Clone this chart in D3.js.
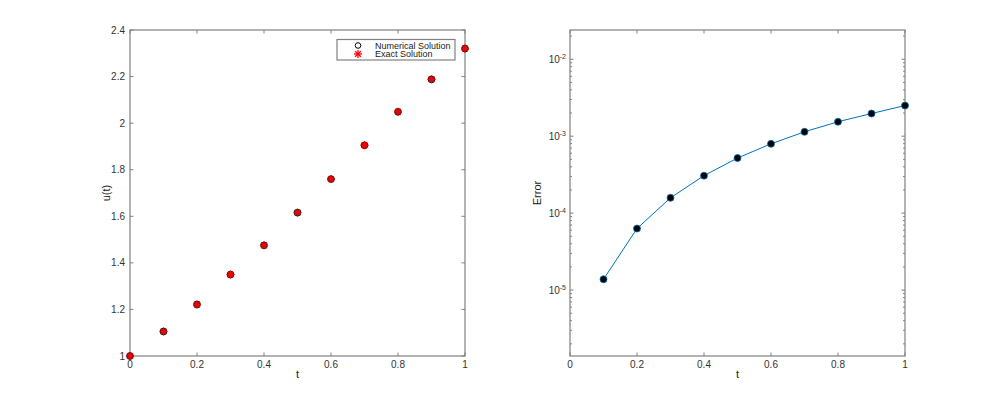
<!DOCTYPE html>
<html><head><meta charset="utf-8">
<script src="https://cdn.jsdelivr.net/npm/d3@7"></script>
<style>body{margin:0;background:#fff}svg{display:block}text{font-family:"Liberation Sans",Arial,sans-serif}</style>
</head><body><svg id="c" width="1000" height="400"></svg>
<script>
const tVals = [0,0.1,0.2,0.3,0.4,0.5,0.6,0.7,0.8,0.9,1.0];
const uNumerical = [1.0,1.1052,1.2213,1.3498,1.4752,1.6158,1.7597,1.9049,2.0487,2.1880,2.3201];
const uExact = [1.0,1.1052,1.2214,1.3499,1.4753,1.6160,1.7600,1.9052,2.0491,2.1885,2.3207];
const tErr = [0.1,0.2,0.3,0.4,0.5,0.6,0.7,0.8,0.9,1.0];
const errVals = [1.38e-5,6.3e-5,1.58e-4,3.07e-4,5.2e-4,7.96e-4,1.14e-3,1.54e-3,1.97e-3,2.5e-3];
const xTicks = [0,0.2,0.4,0.6,0.8,1];
const uTicks = [1,1.2,1.4,1.6,1.8,2,2.2,2.4];
const errMajor = [-5,-4,-3,-2];
const legendLabels = ["Numerical Solution","Exact Solution"];

const svg = d3.select("#c");
const axisCol = "#808080", textCol = "#333";
const yTop = 30, yBot = 356;

function frame(g, L, R){
  g.append("rect").attr("x",L).attr("y",yTop).attr("width",R-L).attr("height",yBot-yTop)
   .attr("fill","none").attr("stroke",axisCol).attr("stroke-width",1.2);
}
function drawStar(sel, cx, cy){
  const s=sel.append("g").attr("transform",`translate(${cx},${cy})`);
  for(let a=0;a<4;a++){
    const ang=a*Math.PI/4, r=4;
    s.append("line").attr("x1",-r*Math.cos(ang)).attr("y1",-r*Math.sin(ang)).attr("x2",r*Math.cos(ang)).attr("y2",r*Math.sin(ang)).attr("stroke","#ff0000").attr("stroke-width",1.3);
  }
}

// ---- Left plot
{
  const L=130,R=465;
  const x = d3.scaleLinear().domain([0,1]).range([L,R]);
  const y = d3.scaleLinear().domain([1,2.4]).range([yBot,yTop]);
  const g = svg.append("g");
  frame(g,L,R);
  xTicks.forEach(v=>{
    g.append("line").attr("x1",x(v)).attr("x2",x(v)).attr("y1",yBot).attr("y2",yBot-3.5).attr("stroke",axisCol);
    g.append("line").attr("x1",x(v)).attr("x2",x(v)).attr("y1",yTop).attr("y2",yTop+3.5).attr("stroke",axisCol);
    g.append("text").attr("x",x(v)).attr("y",yBot+12).attr("text-anchor","middle").attr("font-size",10).attr("fill",textCol).text(d3.format("~g")(v));
  });
  uTicks.forEach(v=>{
    g.append("line").attr("x1",L).attr("x2",L+3.5).attr("y1",y(v)).attr("y2",y(v)).attr("stroke",axisCol);
    g.append("line").attr("x1",R).attr("x2",R-3.5).attr("y1",y(v)).attr("y2",y(v)).attr("stroke",axisCol);
    g.append("text").attr("x",L-5).attr("y",y(v)+3.5).attr("text-anchor","end").attr("font-size",10).attr("fill",textCol).text(d3.format("~g")(v));
  });
  g.append("text").attr("x",(L+R)/2).attr("y",yBot+22).attr("text-anchor","middle").attr("font-size",11).attr("fill","#222").text("t");
  g.append("text").attr("transform",`translate(${L-20},${(yTop+yBot)/2}) rotate(-90)`).attr("text-anchor","middle").attr("font-size",11).attr("fill","#222").text("u(t)");
  tVals.forEach((t,i)=>{
    g.append("circle").attr("cx",x(t)).attr("cy",y(uNumerical[i])).attr("r",3.4).attr("fill","#333").attr("stroke","#000").attr("stroke-width",0.8);
  });
  tVals.forEach((t,i)=> drawStar(g, x(t), y(uExact[i])));
  // legend
  const lx=337, ly=39.5, lw=118, lh=20.5;
  g.append("rect").attr("x",lx).attr("y",ly).attr("width",lw).attr("height",lh).attr("fill","#fff").attr("stroke",axisCol).attr("stroke-width",1.2);
  g.append("circle").attr("cx",lx+21).attr("cy",ly+6).attr("r",2.8).attr("fill","none").attr("stroke","#000").attr("stroke-width",1);
  drawStar(g, lx+21, ly+14.5);
  g.append("text").attr("x",lx+38).attr("y",ly+9).attr("font-size",9).attr("fill","#222").text(legendLabels[0]);
  g.append("text").attr("x",lx+38).attr("y",ly+17.5).attr("font-size",9).attr("fill","#222").text(legendLabels[1]);
}

// ---- Right plot
{
  const L=570,R=905;
  const x = d3.scaleLinear().domain([0,1]).range([L,R]);
  const y = d3.scaleLog().domain([Math.pow(10,-5.857),Math.pow(10,-1.62)]).range([yBot,yTop]);
  const g = svg.append("g");
  frame(g,L,R);
  xTicks.forEach(v=>{
    g.append("line").attr("x1",x(v)).attr("x2",x(v)).attr("y1",yBot).attr("y2",yBot-3.5).attr("stroke",axisCol);
    g.append("line").attr("x1",x(v)).attr("x2",x(v)).attr("y1",yTop).attr("y2",yTop+3.5).attr("stroke",axisCol);
    g.append("text").attr("x",x(v)).attr("y",yBot+12).attr("text-anchor","middle").attr("font-size",10).attr("fill",textCol).text(d3.format("~g")(v));
  });
  const [d0,d1]=y.domain();
  for(let e=-6;e<=-1;e++){
    for(let m=1;m<=9;m++){
      const v=m*Math.pow(10,e);
      if(v<d0||v>d1) continue;
      const len = m===1?3.5:2;
      g.append("line").attr("x1",L).attr("x2",L+len).attr("y1",y(v)).attr("y2",y(v)).attr("stroke",axisCol);
      g.append("line").attr("x1",R).attr("x2",R-len).attr("y1",y(v)).attr("y2",y(v)).attr("stroke",axisCol);
    }
  }
  errMajor.forEach(e=>{
    const t=g.append("text").attr("x",L-4).attr("y",y(Math.pow(10,e))+4).attr("text-anchor","end").attr("font-size",10).attr("fill",textCol);
    t.append("tspan").text("10");
    t.append("tspan").attr("dy",-4).attr("font-size",7).text(String(e));
  });
  g.append("text").attr("x",(L+R)/2).attr("y",yBot+22).attr("text-anchor","middle").attr("font-size",11).attr("fill","#222").text("t");
  g.append("text").attr("transform",`translate(${L-29},${(yTop+yBot)/2}) rotate(-90)`).attr("text-anchor","middle").attr("font-size",11).attr("fill","#222").text("Error");
  const line=d3.line().x((d,i)=>x(tErr[i])).y(d=>y(d));
  g.append("path").datum(errVals).attr("d",line).attr("fill","none").attr("stroke","#0072BD").attr("stroke-width",1);
  errVals.forEach((v,i)=>{
    g.append("circle").attr("cx",x(tErr[i])).attr("cy",y(v)).attr("r",3.5).attr("fill","#000").attr("stroke","#0072BD").attr("stroke-width",0.8);
  });
}
</script></body></html>
